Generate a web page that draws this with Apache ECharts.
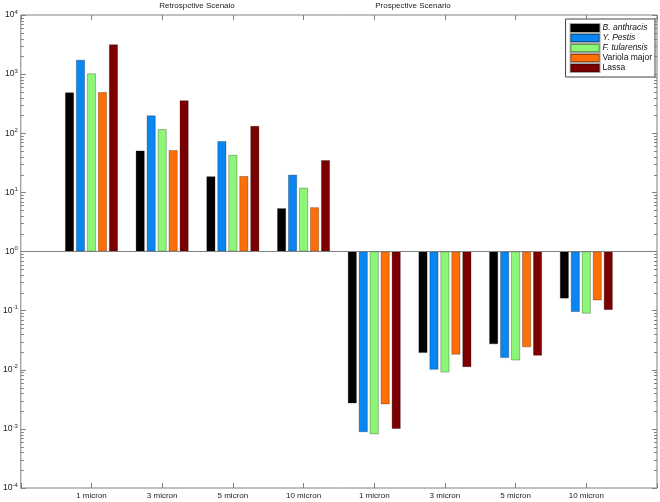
<!DOCTYPE html>
<html>
<head>
<meta charset="utf-8">
<script src="https://cdn.jsdelivr.net/npm/echarts@6/dist/echarts.min.js"></script>
<style>html,body{margin:0;padding:0;background:#fff}#c{width:660px;height:502px}</style>
</head>
<body>
<div id="c"></div>
<script>
const categories = ['1 micron','3 micron','5 micron','10 micron','1 micron','3 micron','5 micron','10 micron'];
const seriesNames = ['B. anthracis','Y. Pestis','F. tularensis','Variola major','Lassa'];
const bAnthracis   = [490, 51, 18.7, 5.4, 0.0027, 0.0192, 0.027, 0.16];
const yPestis      = [1750, 200, 74, 19.9, 0.00088, 0.0100, 0.0158, 0.095];
const fTularensis  = [1030, 118, 43, 12.0, 0.00081, 0.0090, 0.0144, 0.089];
const variolaMajor = [495, 52, 18.9, 5.6, 0.0026, 0.018, 0.024, 0.149];
const lassa        = [3200, 360, 133, 35, 0.00100, 0.0111, 0.0173, 0.1025];
const scenarioLabels = ['Retrospctive Scenaio','Prospective Scenario'];
const yTickExponents = [-4,-3,-2,-1,0,1,2,3,4];
const minorMultipliers = [2,3,4,5,6,7,8,9];

const colors = ['#000000','#0a86f2','#8cf777','#ff6f08','#7d0000'];
const allValues = [bAnthracis, yPestis, fTularensis, variolaMajor, lassa];

const font = 'Liberation Sans, Arial, sans-serif';
const gray = '#808080';
const eMin = yTickExponents[0], eMax = yTickExponents[yTickExponents.length - 1];
const xMax = categories.length + 1;

const minorTickValues = [];
yTickExponents.slice(0, -1).forEach(e => minorMultipliers.forEach(k => minorTickValues.push(k * Math.pow(10, e))));

function yMainAxis(position, showLabel) {
  return {
    type: 'log', logBase: 10, min: Math.pow(10, eMin), max: Math.pow(10, eMax), position: position,
    axisLine: {show: false, onZero: false}, splitLine: {show: false},
    axisTick: {show: true, inside: true, length: 5, lineStyle: {color: gray}},
    axisLabel: {
      show: showLabel, margin: 3, fontFamily: font, color: '#222',
      formatter: v => '{b|10}{s|' + Math.round(Math.log10(v)) + '}',
      rich: {b: {fontSize: 8.5, fontFamily: font, color: '#222'},
             s: {fontSize: 6, fontFamily: font, color: '#222', verticalAlign: 'top', padding: [0,0,6,0]}}
    }
  };
}
function xAxisDef(position, showLabel) {
  return {
    type: 'value', min: 0, max: xMax, interval: 1, position: position,
    axisLine: {show: false, onZero: false}, splitLine: {show: false},
    axisTick: {show: true, inside: true, length: 5, lineStyle: {color: gray}},
    axisLabel: {show: showLabel, margin: 4, fontSize: 8, fontFamily: font, color: '#222',
      formatter: v => (v >= 1 && v <= categories.length) ? categories[v - 1] : ''}
  };
}

const series = seriesNames.map((name, i) => ({
  name: name, type: 'bar', xAxisIndex: 0, yAxisIndex: 0,
  barWidth: 9, barGap: '22%',
  itemStyle: {color: colors[i], borderColor: 'rgba(0,0,0,0.35)', borderWidth: 0.8},
  data: allValues[i].map((v, j) => [j + 1, v]),
  markLine: i === 0 ? {silent: true, symbol: 'none', label: {show: false},
    lineStyle: {color: gray, type: 'solid', width: 1}, data: [{yAxis: 1}]} : undefined
}));

// minor log ticks on both vertical sides of the frame
series.push({
  name: 'minor-ticks', type: 'custom', xAxisIndex: 0, yAxisIndex: 0, silent: true, z: 5,
  data: minorTickValues.map(v => [0, v]),
  renderItem: (params, api) => {
    const v = api.value(1);
    const l = api.coord([0, v]);
    const r = api.coord([xMax, v]);
    const y = Math.round(l[1]) + 0.5;
    return {type: 'group', children: [
      {type: 'line', shape: {x1: l[0], y1: y, x2: l[0] + 3, y2: y}, style: {stroke: gray, lineWidth: 1}},
      {type: 'line', shape: {x1: r[0] - 3, y1: y, x2: r[0], y2: y}, style: {stroke: gray, lineWidth: 1}}
    ]};
  }
});

const chart = echarts.init(document.getElementById('c'), null, {renderer: 'canvas'});
chart.setOption({
  animation: false,
  backgroundColor: '#fff',
  grid: {left: 19, right: 3, top: 15, bottom: 14, show: true, borderColor: gray, borderWidth: 1, backgroundColor: 'transparent'},
  xAxis: [xAxisDef('bottom', true), xAxisDef('top', false)],
  yAxis: [yMainAxis('left', true), yMainAxis('right', false)],
  legend: {
    orient: 'vertical', right: 5, top: 19, icon: 'rect',
    itemWidth: 29, itemHeight: 8, itemGap: 0,
    padding: [4, 3, 4, 4], borderColor: '#444', borderWidth: 1, backgroundColor: '#fff',
    textStyle: {fontSize: 8.5, fontFamily: font, color: '#111', padding: [0,0,0,-2]},
    data: seriesNames.map((n, i) => ({name: n, textStyle: i < 3 ? {fontStyle: 'italic'} : {}}))
  },
  graphic: [
    {type: 'text', x: 197, y: 2, style: {text: scenarioLabels[0], fontSize: 8, fontFamily: font, fill: '#222', align: 'center'}},
    {type: 'text', x: 413, y: 2, style: {text: scenarioLabels[1], fontSize: 8, fontFamily: font, fill: '#222', align: 'center'}}
  ],
  series: series
});
</script>
</body>
</html>
